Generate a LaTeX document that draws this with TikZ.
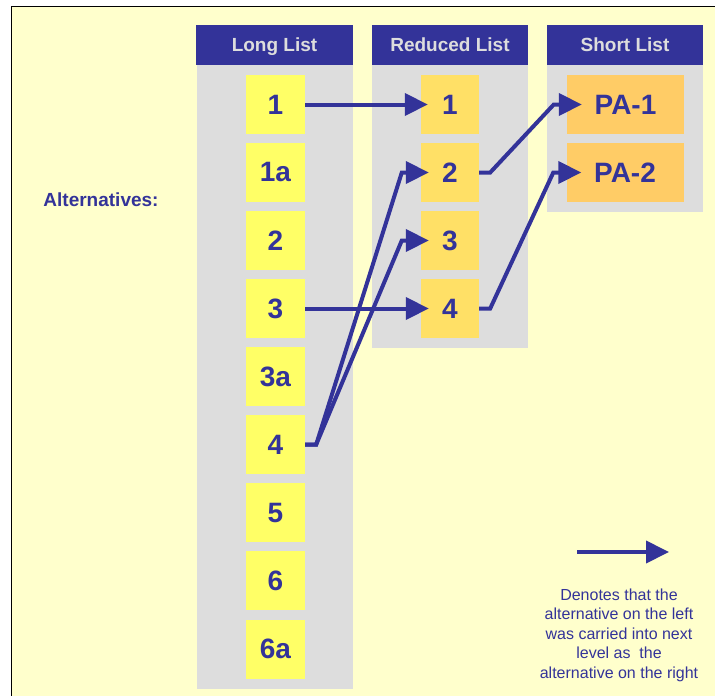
\documentclass[tikz,border=0pt]{standalone}
\usepackage{fontspec}
\setmainfont{Liberation Sans}
\usetikzlibrary{arrows.meta}

\definecolor{paper}{HTML}{FFFFCC}
\definecolor{ink}{HTML}{333399}
\definecolor{panel}{HTML}{DDDDDD}
\definecolor{longfill}{HTML}{FFFF66}
\definecolor{redfill}{HTML}{FFE066}
\definecolor{shortfill}{HTML}{FFCC66}

\tikzset{
  header/.style={fill=ink, text=panel, font=\fontsize{19}{22}\selectfont\bfseries, text height=13.5pt, text depth=0pt, minimum width=156pt, minimum height=40pt, inner sep=0pt},
  column/.style={fill=panel, minimum width=156pt, inner sep=0pt},
  longitem/.style={fill=longfill, text=ink, font=\fontsize{28}{30}\selectfont\bfseries, minimum width=59pt, minimum height=59pt, inner sep=0pt},
  reditem/.style={fill=redfill, text=ink, font=\fontsize{28}{30}\selectfont\bfseries, minimum width=58pt, minimum height=59pt, inner sep=0pt},
  shortitem/.style={fill=shortfill, text=ink, font=\fontsize{28}{30}\selectfont\bfseries, minimum width=117pt, minimum height=59pt, inner sep=0pt},
  carry/.style={draw=ink, line width=4pt, -{Triangle[length=23pt,width=22pt]}}
}

\begin{document}
\begin{tikzpicture}[x=1pt, y=-1pt]
  \useasboundingbox (0,0) rectangle (715,696);
  \fill[white] (0,0) rectangle (715,696);
  \fill[paper] (11.5,6.5) rectangle (715,696);
  \draw[line width=1.3pt] (11.5,696) -- (11.5,6.5) -- (715,6.5);

  % grey panels behind each list
  \node[column, minimum height=624pt] (longcol) at (275,377) {};
  \node[column, minimum height=283pt] (redcol) at (450,206.5) {};
  \node[column, minimum height=147pt] (shortcol) at (625,138.5) {};

  \node[header, minimum width=157pt] (longhead) at (274.5,45) {Long List};
  \node[header] (redhead) at (450,45) {Reduced List};
  \node[header] (shorthead) at (625,45) {Short List};

  \node[text=ink, font=\fontsize{19}{22}\selectfont\bfseries] (alt) at (101,200) {Alternatives:};

  % long list
  \node[longitem] (l1) at (275.5,104.5) {1};
  \node[longitem] (l1a) at (275.5,172.5) {1a};
  \node[longitem] (l2) at (275.5,240.5) {2};
  \node[longitem] (l3) at (275.5,308.5) {3};
  \node[longitem] (l3a) at (275.5,376.5) {3a};
  \node[longitem] (l4) at (275.5,444.5) {4};
  \node[longitem] (l5) at (275.5,512.5) {5};
  \node[longitem] (l6) at (275.5,580.5) {6};
  \node[longitem] (l6a) at (275.5,649) {6a};

  % reduced list
  \node[reditem] (r1) at (450,104.5) {1};
  \node[reditem] (r2) at (450,172.5) {2};
  \node[reditem] (r3) at (450,240.5) {3};
  \node[reditem] (r4) at (450,308.5) {4};

  % short list
  \node[shortitem] (s1) at (625.5,104.5) {PA-1};
  \node[shortitem] (s2) at (625,172.5) {PA-2};

  \draw[carry] (l1.east) -- ([xshift=7pt]r1.west);
  \draw[carry] (l3.east) -- ([xshift=8pt]r4.west);
  \draw[carry] (l4.east) -- ++(11pt,0) -- ([xshift=-19pt]r2.west) -- ([xshift=8pt]r2.west);
  \draw[carry] (l4.east) -- ++(11pt,0) -- ([xshift=-19pt]r3.west) -- ([xshift=8pt]r3.west);
  \draw[carry] (r2.east) -- ++(11pt,0) -- ([xshift=-13pt]s1.west) -- ([xshift=15pt]s1.west);
  \draw[carry] (r4.east) -- ++(11pt,0) -- ([xshift=-13pt]s2.west) -- ([xshift=15pt]s2.west);

  % key
  \coordinate (keyL) at (577,552);
  \coordinate (keyR) at (669,552);
  \draw[carry] (keyL) -- (keyR);
  \node[text=ink, align=center, font=\fontsize{16}{19.5}\selectfont] (keytext) at (619,635)
    {Denotes that the\\alternative on the left\\was carried into next\\level as\ \ the\\alternative on the right};
\end{tikzpicture}
\end{document}
